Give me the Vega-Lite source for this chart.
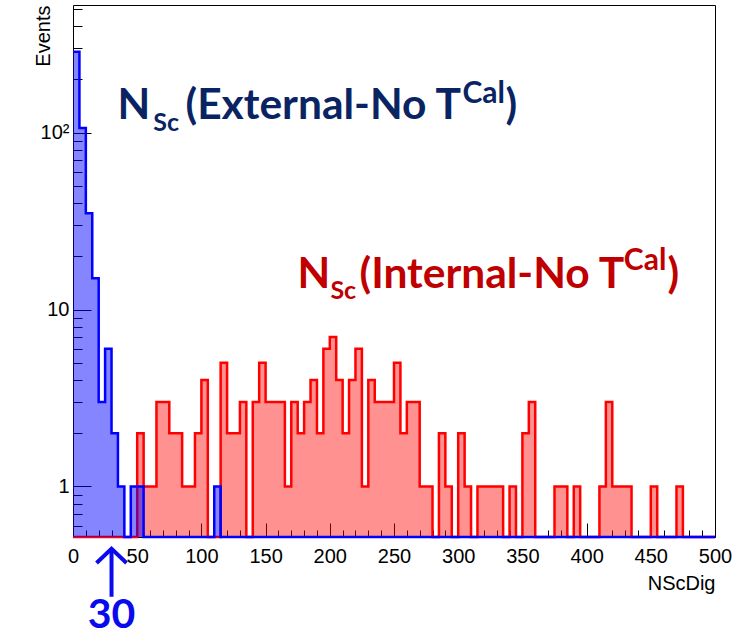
{
  "$schema": "https://vega.github.io/schema/vega-lite/v6.json",
  "width": 642,
  "height": 532,
  "autosize": {"type": "none"},
  "padding": {"left": 73, "top": 5, "right": 26, "bottom": 100},
  "background": "white",
  "config": {
    "view": {"stroke": "#000000", "strokeWidth": 1},
    "axis": {"grid": false, "domain": false, "zindex": 1, "labelFont": "Liberation Sans", "titleFont": "Liberation Sans", "labelColor": "#000000", "titleColor": "#000000", "tickColor": "#000000", "tickWidth": 1}
  },
  "datasets": {
    "hist": [
      {"lo": 0, "blue": 286, "red": 0}, {"lo": 5, "blue": 106, "red": 0}, {"lo": 10, "blue": 35, "red": 0}, {"lo": 15, "blue": 15, "red": 0},
      {"lo": 20, "blue": 3, "red": 0}, {"lo": 25, "blue": 6, "red": 0}, {"lo": 30, "blue": 2, "red": 0}, {"lo": 35, "blue": 1, "red": 0},
      {"lo": 40, "blue": 0, "red": 0}, {"lo": 45, "blue": 1, "red": 0}, {"lo": 50, "blue": 1, "red": 2}, {"lo": 55, "blue": 0, "red": 1},
      {"lo": 60, "blue": 0, "red": 1}, {"lo": 65, "blue": 0, "red": 3}, {"lo": 70, "blue": 0, "red": 3}, {"lo": 75, "blue": 0, "red": 2},
      {"lo": 80, "blue": 0, "red": 2}, {"lo": 85, "blue": 0, "red": 1}, {"lo": 90, "blue": 0, "red": 1}, {"lo": 95, "blue": 0, "red": 2},
      {"lo": 100, "blue": 0, "red": 4}, {"lo": 105, "blue": 0, "red": 0}, {"lo": 110, "blue": 1, "red": 0}, {"lo": 115, "blue": 0, "red": 5},
      {"lo": 120, "blue": 0, "red": 2}, {"lo": 125, "blue": 0, "red": 2}, {"lo": 130, "blue": 0, "red": 3}, {"lo": 135, "blue": 0, "red": 0},
      {"lo": 140, "blue": 0, "red": 3}, {"lo": 145, "blue": 0, "red": 5}, {"lo": 150, "blue": 0, "red": 3}, {"lo": 155, "blue": 0, "red": 3},
      {"lo": 160, "blue": 0, "red": 3}, {"lo": 165, "blue": 0, "red": 1}, {"lo": 170, "blue": 0, "red": 3}, {"lo": 175, "blue": 0, "red": 2},
      {"lo": 180, "blue": 0, "red": 3}, {"lo": 185, "blue": 0, "red": 4}, {"lo": 190, "blue": 0, "red": 2}, {"lo": 195, "blue": 0, "red": 6},
      {"lo": 200, "blue": 0, "red": 7}, {"lo": 205, "blue": 0, "red": 4}, {"lo": 210, "blue": 0, "red": 2}, {"lo": 215, "blue": 0, "red": 4},
      {"lo": 220, "blue": 0, "red": 6}, {"lo": 225, "blue": 0, "red": 1}, {"lo": 230, "blue": 0, "red": 4}, {"lo": 235, "blue": 0, "red": 3},
      {"lo": 240, "blue": 0, "red": 3}, {"lo": 245, "blue": 0, "red": 3}, {"lo": 250, "blue": 0, "red": 5}, {"lo": 255, "blue": 0, "red": 2},
      {"lo": 260, "blue": 0, "red": 3}, {"lo": 265, "blue": 0, "red": 3}, {"lo": 270, "blue": 0, "red": 1}, {"lo": 275, "blue": 0, "red": 1},
      {"lo": 280, "blue": 0, "red": 0}, {"lo": 285, "blue": 0, "red": 2}, {"lo": 290, "blue": 0, "red": 1}, {"lo": 295, "blue": 0, "red": 0},
      {"lo": 300, "blue": 0, "red": 2}, {"lo": 305, "blue": 0, "red": 1}, {"lo": 310, "blue": 0, "red": 0}, {"lo": 315, "blue": 0, "red": 1},
      {"lo": 320, "blue": 0, "red": 1}, {"lo": 325, "blue": 0, "red": 1}, {"lo": 330, "blue": 0, "red": 1}, {"lo": 335, "blue": 0, "red": 0},
      {"lo": 340, "blue": 0, "red": 1}, {"lo": 345, "blue": 0, "red": 0}, {"lo": 350, "blue": 0, "red": 2}, {"lo": 355, "blue": 0, "red": 3},
      {"lo": 360, "blue": 0, "red": 0}, {"lo": 365, "blue": 0, "red": 0}, {"lo": 370, "blue": 0, "red": 0}, {"lo": 375, "blue": 0, "red": 1},
      {"lo": 380, "blue": 0, "red": 1}, {"lo": 385, "blue": 0, "red": 0}, {"lo": 390, "blue": 0, "red": 1}, {"lo": 395, "blue": 0, "red": 0},
      {"lo": 400, "blue": 0, "red": 0}, {"lo": 405, "blue": 0, "red": 0}, {"lo": 410, "blue": 0, "red": 1}, {"lo": 415, "blue": 0, "red": 3},
      {"lo": 420, "blue": 0, "red": 1}, {"lo": 425, "blue": 0, "red": 1}, {"lo": 430, "blue": 0, "red": 1}, {"lo": 435, "blue": 0, "red": 0},
      {"lo": 440, "blue": 0, "red": 0}, {"lo": 445, "blue": 0, "red": 0}, {"lo": 450, "blue": 0, "red": 1}, {"lo": 455, "blue": 0, "red": 0},
      {"lo": 460, "blue": 0, "red": 0}, {"lo": 465, "blue": 0, "red": 0}, {"lo": 470, "blue": 0, "red": 1}, {"lo": 475, "blue": 0, "red": 0},
      {"lo": 480, "blue": 0, "red": 0}, {"lo": 485, "blue": 0, "red": 0}, {"lo": 490, "blue": 0, "red": 0}, {"lo": 495, "blue": 0, "red": 0},
      {"lo": 500, "blue": 0, "red": 0}
    ],
    "notes": [
      {"g": "ext", "part": "main", "x": 34.7, "y": 119.8, "t": "N"},
      {"g": "ext", "part": "sub", "x": 62.5, "y": 102, "t": "Sc"},
      {"g": "ext", "part": "main", "x": 87.6, "y": 119.8, "t": "(External-No T"},
      {"g": "ext", "part": "sup", "x": 303.3, "y": 147.6, "t": "Cal"},
      {"g": "ext", "part": "main", "x": 336.8, "y": 119.8, "t": ")"},
      {"g": "int", "part": "main", "x": 174.9, "y": 13.28, "t": "N"},
      {"g": "int", "part": "sub", "x": 200.5, "y": 11.51, "t": "Sc"},
      {"g": "int", "part": "main", "x": 223.1, "y": 13.28, "t": "(Internal-No T"},
      {"g": "int", "part": "sup", "x": 429, "y": 16.8, "t": "Cal"},
      {"g": "int", "part": "main", "x": 463, "y": 13.28, "t": ")"}
    ],
    "arrow": [{"x": 30, "ytip": 0.4446, "ytail": 0.238, "ylabel": 0.159, "t": "30"}]
  },
  "resolve": {"scale": {"y": "independent"}, "axis": {"x": "independent", "y": "independent"}},
  "layer": [
    {
      "data": {"name": "hist"},
      "mark": {"type": "area", "interpolate": "step-after", "orient": "vertical", "fill": "#ff0000", "fillOpacity": 0.43, "strokeWidth": 0, "invalid": "show"},
      "encoding": {
        "x": {"field": "lo", "type": "quantitative", "scale": {"domain": [0, 500], "nice": false, "zero": false},
          "axis": {"orient": "bottom", "values": [0, 50, 100, 150, 200, 250, 300, 350, 400, 450, 500], "tickSize": -14, "labelPadding": 23, "labelFontSize": 20, "labelFlush": false, "labelOverlap": false,
            "title": "NScDig", "titleFontSize": 20, "titleFontWeight": "normal", "titleAnchor": "end", "titleAlign": "right", "titleX": 642, "titleY": 52, "titleBaseline": "alphabetic"}},
        "y": {"field": "red", "type": "quantitative", "stack": null, "scale": {"type": "log", "domain": [0.518, 526], "nice": false, "clamp": true},
          "axis": {"orient": "left", "values": [1, 10, 100], "tickSize": -18, "labelPadding": 22, "labelFontSize": 20,
            "labelExpr": "datum.value == 1 ? '1' : datum.value == 10 ? '10' : '10²'",
            "title": "Events", "titleFontSize": 20, "titleFontWeight": "normal", "titleAngle": 270, "titleAlign": "right", "titleBaseline": "alphabetic", "titleX": -24, "titleY": 0}},
        "y2": {"value": "height"}
      }
    },
    {
      "data": {"name": "hist"},
      "mark": {"type": "line", "interpolate": "step-after", "color": "#ff0000", "strokeWidth": 2.5, "invalid": "show"},
      "encoding": {
        "x": {"field": "lo", "type": "quantitative", "scale": {"domain": [0, 500], "nice": false, "zero": false},
          "axis": {"orient": "bottom", "values": [10, 20, 30, 40, 60, 70, 80, 90, 110, 120, 130, 140, 160, 170, 180, 190, 210, 220, 230, 240, 260, 270, 280, 290, 310, 320, 330, 340, 360, 370, 380, 390, 410, 420, 430, 440, 460, 470, 480, 490], "tickSize": -7, "labels": false, "title": null}},
        "y": {"field": "red", "type": "quantitative", "scale": {"type": "log", "domain": [0.518, 526], "nice": false, "clamp": true},
          "axis": {"orient": "left", "values": [0.6, 0.7, 0.8, 0.9, 2, 3, 4, 5, 6, 7, 8, 9, 20, 30, 40, 50, 60, 70, 80, 90, 200, 300, 400, 500], "tickSize": -9, "labels": false, "title": null}}
      }
    },
    {
      "data": {"name": "hist"},
      "mark": {"type": "area", "interpolate": "step-after", "orient": "vertical", "fill": "#0000ff", "fillOpacity": 0.48, "strokeWidth": 0, "invalid": "show"},
      "encoding": {
        "x": {"field": "lo", "type": "quantitative", "scale": {"domain": [0, 500], "nice": false, "zero": false}, "axis": null},
        "y": {"field": "blue", "type": "quantitative", "stack": null, "scale": {"type": "log", "domain": [0.518, 526], "nice": false, "clamp": true}, "axis": null},
        "y2": {"value": "height"}
      }
    },
    {
      "data": {"name": "hist"},
      "mark": {"type": "line", "interpolate": "step-after", "color": "#0000ff", "strokeWidth": 2.5, "invalid": "show"},
      "encoding": {
        "x": {"field": "lo", "type": "quantitative", "scale": {"domain": [0, 500], "nice": false, "zero": false}, "axis": null},
        "y": {"field": "blue", "type": "quantitative", "scale": {"type": "log", "domain": [0.518, 526], "nice": false, "clamp": true}, "axis": null}
      }
    },
    {
      "data": {"name": "notes"},
      "transform": [{"filter": "datum.part == 'main'"}],
      "mark": {"type": "text", "font": "Lato", "fontWeight": "bold", "fontSize": 42.5, "align": "left", "baseline": "alphabetic"},
      "encoding": {
        "x": {"field": "x", "type": "quantitative", "scale": {"domain": [0, 500], "nice": false, "zero": false}, "axis": null},
        "y": {"field": "y", "type": "quantitative", "scale": {"type": "log", "domain": [0.518, 526], "nice": false}, "axis": null},
        "text": {"field": "t"},
        "color": {"field": "g", "type": "nominal", "scale": {"domain": ["ext", "int"], "range": ["#0a2463", "#c00000"]}, "legend": null}
      }
    },
    {
      "data": {"name": "notes"},
      "transform": [{"filter": "datum.part == 'sub'"}],
      "mark": {"type": "text", "font": "Lato", "fontWeight": "bold", "fontSize": 25, "align": "left", "baseline": "alphabetic"},
      "encoding": {
        "x": {"field": "x", "type": "quantitative", "scale": {"domain": [0, 500], "nice": false, "zero": false}, "axis": null},
        "y": {"field": "y", "type": "quantitative", "scale": {"type": "log", "domain": [0.518, 526], "nice": false}, "axis": null},
        "text": {"field": "t"},
        "color": {"field": "g", "type": "nominal", "scale": {"domain": ["ext", "int"], "range": ["#0a2463", "#c00000"]}, "legend": null}
      }
    },
    {
      "data": {"name": "notes"},
      "transform": [{"filter": "datum.part == 'sup'"}],
      "mark": {"type": "text", "font": "Lato", "fontWeight": "bold", "fontSize": 30, "align": "left", "baseline": "alphabetic"},
      "encoding": {
        "x": {"field": "x", "type": "quantitative", "scale": {"domain": [0, 500], "nice": false, "zero": false}, "axis": null},
        "y": {"field": "y", "type": "quantitative", "scale": {"type": "log", "domain": [0.518, 526], "nice": false}, "axis": null},
        "text": {"field": "t"},
        "color": {"field": "g", "type": "nominal", "scale": {"domain": ["ext", "int"], "range": ["#0a2463", "#c00000"]}, "legend": null}
      }
    },
    {
      "data": {"name": "arrow"},
      "mark": {"type": "rule", "color": "#0a0aee", "strokeWidth": 4},
      "encoding": {
        "x": {"field": "x", "type": "quantitative", "scale": {"domain": [0, 500], "nice": false, "zero": false}, "axis": null},
        "y": {"field": "ytail", "type": "quantitative", "scale": {"type": "log", "domain": [0.518, 526], "nice": false}, "axis": null},
        "y2": {"field": "ytip"}
      }
    },
    {
      "data": {"name": "arrow"},
      "mark": {"type": "point", "shape": "M-1,0.95L0,0L1,0.95", "size": 900, "filled": false, "color": "#0a0aee", "strokeWidth": 4, "opacity": 1},
      "encoding": {
        "x": {"field": "x", "type": "quantitative", "scale": {"domain": [0, 500], "nice": false, "zero": false}, "axis": null},
        "y": {"field": "ytip", "type": "quantitative", "scale": {"type": "log", "domain": [0.518, 526], "nice": false}, "axis": null}
      }
    },
    {
      "data": {"name": "arrow"},
      "mark": {"type": "text", "font": "Lato", "fontWeight": "bold", "fontSize": 41, "align": "center", "baseline": "alphabetic", "color": "#0a0aee"},
      "encoding": {
        "x": {"field": "x", "type": "quantitative", "scale": {"domain": [0, 500], "nice": false, "zero": false}, "axis": null},
        "y": {"field": "ylabel", "type": "quantitative", "scale": {"type": "log", "domain": [0.518, 526], "nice": false}, "axis": null},
        "text": {"field": "t"}
      }
    }
  ]
}
